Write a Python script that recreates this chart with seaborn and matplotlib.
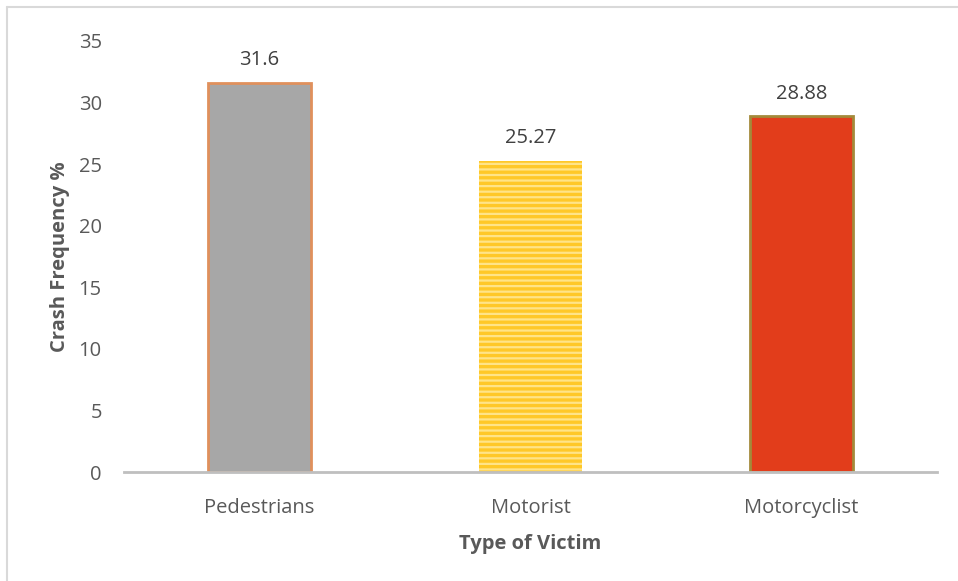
import matplotlib
matplotlib.use("Agg")
import matplotlib.pyplot as plt
import seaborn as sns
import pandas as pd
from matplotlib.lines import Line2D

categories = ["Pedestrians", "Motorist", "Motorcyclist"]
values = [31.6, 25.27, 28.88]
labels = ["31.6", "25.27", "28.88"]
face_colors = ["#A7A7A7", "#FFC828", "#E23D1B"]
edge_colors = ["#E0905C", "#F5C030", "#A38A3A"]

sns.set_theme(style="white")
plt.rcParams["font.family"] = ["Open Sans", "DejaVu Sans"]
plt.rcParams["hatch.linewidth"] = 1.6
text_col = "#595959"
fs = 14.5

df = pd.DataFrame({"Type": categories, "Value": values})

fig = plt.figure(figsize=(9.58, 5.81), dpi=100)
ax = fig.add_axes([124/958, 1-472/581, (937-124)/958, (472-41)/581])

sns.barplot(data=df, x="Type", y="Value", hue="Type", palette=face_colors,
            width=0.38, legend=False, ax=ax, saturation=1)

for i, p in enumerate(ax.patches):
    p.set_edgecolor(edge_colors[i])
    p.set_linewidth(2.0)
    if categories[i] == "Motorist":
        p.set_hatch("---")
        p.set_edgecolor("#FFE488")
        p.set_linewidth(0)
    ax.annotate(labels[i], (p.get_x() + p.get_width()/2, p.get_height()),
                xytext=(0, 9), textcoords="offset points", ha="center", va="bottom",
                fontsize=fs, color="#404040")

ax.set_ylim(0, 35)
ax.set_yticks(range(0, 36, 5))
ax.set_xlim(-0.5, 2.5)
ax.tick_params(axis="y", length=0, pad=16, labelsize=fs, labelcolor=text_col)
ax.tick_params(axis="x", length=0, pad=19, labelsize=fs, labelcolor=text_col)
for s in ["top", "right", "left"]:
    ax.spines[s].set_visible(False)
ax.spines["bottom"].set_color("#BFBFBF")
ax.spines["bottom"].set_linewidth(2)

ax.set_ylabel("Crash Frequency %", fontsize=fs, fontweight="bold", color=text_col, labelpad=6)
ax.set_xlabel("Type of Victim", fontsize=fs, fontweight="bold", color=text_col, labelpad=11)

fig.add_artist(Line2D([7/958, 7/958], [0, 1-7/581], transform=fig.transFigure, color="#D9D9D9", lw=1.5))
fig.add_artist(Line2D([7/958, 1], [1-7/581, 1-7/581], transform=fig.transFigure, color="#D9D9D9", lw=1.5))

fig.savefig("out.png", dpi=100)
